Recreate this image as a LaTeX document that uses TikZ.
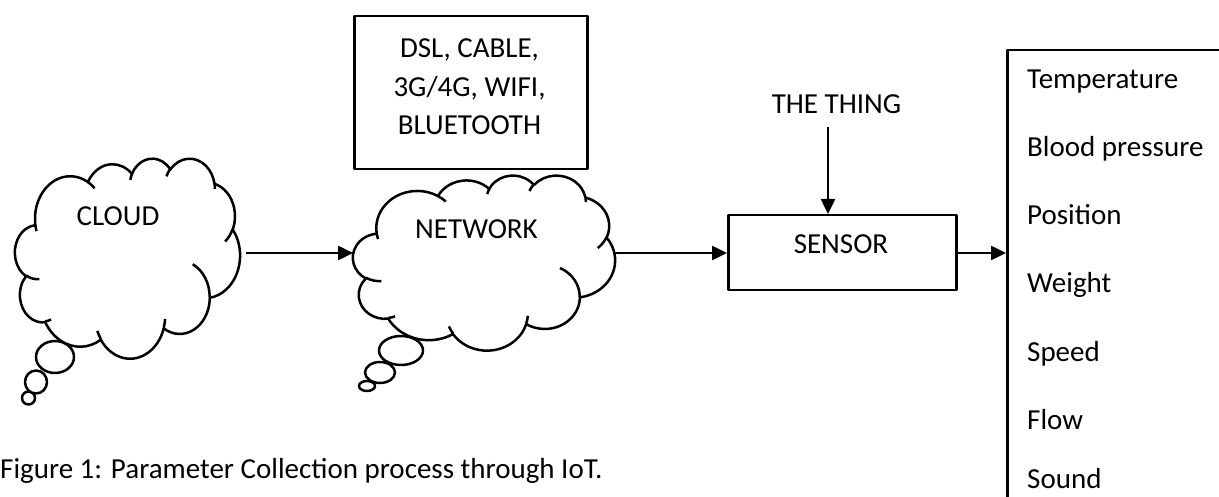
\documentclass[tikz,border=0pt]{standalone}
\usepackage{fontspec}
\setmainfont{Carlito}
\usetikzlibrary{arrows.meta}
\newcommand\carc[4]{arc[start angle={atan2(#1*sin(#3),#2*cos(#3))},delta angle={mod(atan2(#1*sin(#3+#4),#2*cos(#3+#4))-atan2(#1*sin(#3),#2*cos(#3))+720,360)},x radius=#1,y radius=#2]}
\newcommand\cloudbody{(390,1437)
 \carc{675.3}{919.0}{-190.4875}{123.7805}
 \carc{533.3}{726.7}{-144.1024}{89.9452}
 \carc{436.5}{594.5}{-145.8079}{99.7230}
 \carc{485.7}{659.5}{-130.9861}{117.2417}
 \carc{533.3}{727.3}{-78.7089}{109.0269}
 \carc{677.5}{922.0}{-46.2673}{130.2690}
 \carc{578.5}{786.7}{0.6250}{114.0333}
 \carc{675.2}{921.5}{22.4516}{115.1726}
 \carc{772.0}{1054.3}{66.2426}{75.7110}
 \carc{436.0}{591.8}{-274.9421}{146.7356}
 \carc{434.5}{594.5}{-246.8285}{152.5189} -- cycle}
\newcommand\cloudinner{(469.3,2617.7) \carc{434.5}{594.5}{86.7420}{26.4295}
 (692.8,3489.9) \carc{436.0}{591.8}{73.6105}{11.4475}
 (1647.8,3909.0) \carc{675.2}{921.5}{137.6242}{14.0811}
 (2882.7,3475.1) \carc{675.2}{921.5}{6.4533}{15.9984}
 (3412.9,2295.4) \carc{578.5}{786.7}{-70.2924}{70.9174}
 (4179.8,1535.4) \carc{533.3}{727.3}{30.3180}{27.7515}
 (3832.4,542.6) \carc{485.7}{659.5}{-13.7443}{14.8589}
 (2907.8,395.2) \carc{485.7}{659.5}{-149.1815}{18.1954}
 (2214.1,472.0) \carc{436.5}{594.5}{-163.4943}{17.6864}
 (1400.0,519.2) \carc{675.3}{919.0}{-66.7070}{12.3194}
 (412.7,1578.9) \carc{675.3}{919.0}{157.6544}{11.8582}}
\tikzset{
  ln/.style={line width=2.5pt, line join=round},
  arr/.style={line width=2.5pt, -{Triangle[length=15pt,width=14pt]}},
  lbl/.style={font=\fontsize{29}{35}\selectfont, inner sep=0pt},
  bubble/.style={ln, fill=white},
  boxed/.style={draw, ln, inner sep=0pt, anchor=north west}
}
\begin{document}
\begin{tikzpicture}[x=1pt,y=-1pt]
\useasboundingbox (0,0) rectangle (1219,497);
% CLOUD callout
\draw[bubble] (28.5,398) ellipse [x radius=6.5, y radius=6.5];
\draw[bubble] (36,382) ellipse [x radius=11, y radius=11.5];
\draw[bubble] (55,357) ellipse [x radius=19, y radius=16];
\begin{scope}[shift={(15,158)},x=0.052083pt,y=-0.046296pt]
  \draw[ln,fill=white] \cloudbody;
  \draw[ln] \cloudinner;
\end{scope}
\node[lbl, anchor=base] (cloudtxt) at (118,226) {CLOUD};
% NETWORK callout
\draw[bubble] (367,386) ellipse [x radius=8, y radius=5];
\draw[bubble] (380,372.5) ellipse [x radius=15, y radius=10.5];
\draw[bubble] (401,350.5) ellipse [x radius=22, y radius=14.5];
\begin{scope}[shift={(353,175)},x=0.060648pt,y=-0.040509pt]
  \draw[ln,fill=white] \cloudbody;
  \draw[ln] \cloudinner;
\end{scope}
\node[lbl, anchor=base] (nettxt) at (476.5,239) {NETWORK};
% media box
\node[boxed, minimum width=233pt, minimum height=153pt] (media) at (353,15) {};
\node[lbl, anchor=base] (m1) at (469.5,58) {DSL, CABLE,};
\node[lbl, anchor=base] (m2) at (469.5,97) {3G/4G, WIFI,};
\node[lbl, anchor=base] (m3) at (469.5,135) {BLUETOOTH};
% sensor
\node[boxed, minimum width=228pt, minimum height=75pt] (sensor) at (727,214) {};
\node[lbl, anchor=base] (sensortxt) at (841,254) {SENSOR};
\node[lbl, anchor=base] (thing) at (836.5,114) {THE THING};
% list
\node[boxed, minimum width=260pt, minimum height=480pt] (list) at (1006,49) {};
\foreach \t/\yb [count=\i from 0] in {Temperature/89,Blood pressure/157,Position/225,Weight/293,Speed/361,Flow/429,Sound/488}
  \node[lbl, anchor=base west] (item\i) at (1027,\yb) {\t};
% caption
\node[lbl, anchor=base west] (caption) at (0,478) {Figure 1: Parameter Collection process through IoT.};
% connectors
\coordinate (cloudR) at (246,253);
\coordinate (netL) at (353,253);
\coordinate (netR) at (615,253);
\coordinate (thingA) at (828,127);
\draw[arr] (cloudR) -- (netL);
\draw[arr] (netR) -- (netR -| sensor.west);
\draw[arr] (sensor.east |- netR) -- (list.west |- netR);
\draw[arr] (thingA) -- (thingA |- sensor.north);
\end{tikzpicture}
\end{document}
